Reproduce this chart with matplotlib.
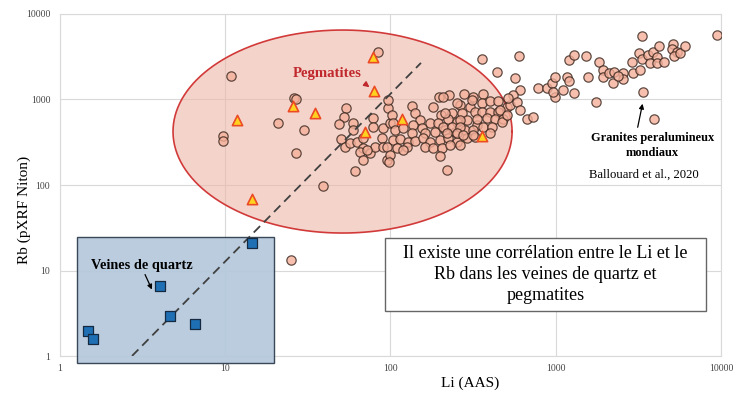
import numpy as np
import matplotlib.pyplot as plt
from matplotlib.patches import Rectangle

plt.rcParams['font.family'] = ['Liberation Serif', 'DejaVu Serif']

# Granites peralumineux mondiaux (Ballouard et al., 2020) - Li (AAS) vs Rb
li_granites = [10.8, 9.7, 9.7, 26, 27, 21, 30, 27, 39, 25, 84,
               54, 52, 49, 59, 59, 50, 53, 57, 63, 68, 78, 78, 90, 89, 99, 97,
               68, 75, 65, 68, 61, 81, 90, 72, 95, 97,
               102, 104, 135, 141, 197, 226, 279, 316, 264, 303, 181, 202, 236,
               271, 325, 151, 174, 194, 223, 253, 291, 334,
               107, 119, 137, 155, 135, 162, 186, 214, 246, 283, 316,
               104, 114, 128, 141, 157, 174, 200, 223, 253, 291, 325,
               95, 110, 126, 162, 181, 205, 230, 264, 99, 119, 200, 98, 220,
               364, 208, 253, 358, 401, 448, 508, 214, 358, 401, 448, 264, 334,
               384, 430, 481, 208, 236, 264, 364, 412, 474, 220, 253, 401, 275, 316,
               312, 461, 530, 508,
               358, 600, 442, 568, 608, 552, 515, 584, 608, 671, 730, 782, 887,
               951, 992, 992, 964, 1108, 1172, 1205, 1292, 1527, 1832, 1205, 1292,
               1570, 1757, 1937, 1937, 2104, 2258, 2225, 2560, 2560, 2900, 2942,
               3243, 3335, 3200, 3335, 3624, 3726, 3890, 4110, 4227, 4110, 4530,
               5140, 5070, 5430, 5210, 5660, 6070, 9480, 3381, 3945, 2390]
rb_granites = [1880, 374, 327, 1040, 1010, 531, 440, 237, 97, 13.3, 3590,
               796, 624, 517, 531, 440, 345, 278, 310, 318, 355, 608, 477, 464, 355, 531, 796,
               271, 237, 243, 196, 146, 278, 278, 257, 196, 986,
               659, 531, 840, 695, 1070, 1130, 1160, 1070, 863, 817, 817, 659, 695,
               695, 714, 576, 531, 531, 591, 546, 576, 503,
               440, 464, 503, 464, 406, 406, 417, 440, 417, 440, 440,
               336, 345, 318, 327, 355, 318, 336, 355, 318, 355, 364,
               278, 271, 278, 278, 271, 271, 294, 294, 224, 257, 218, 186, 150,
               1160, 1070, 910, 910, 960, 960, 817, 695, 714, 714, 714, 576, 591,
               608, 591, 591, 477, 477, 477, 477, 477, 546, 406, 406, 406, 384, 384,
               986, 754, 863, 659,
               2980, 3230, 2100, 1780, 1290, 1130, 1040, 935, 754, 591, 624, 1360, 1360,
               1560, 1830, 1070, 1220, 1290, 1830, 2900, 3310, 3230, 2745, 1650, 1190,
               1830, 935, 2210, 1830, 2040, 2100, 1560, 2040, 1740, 2745, 2040,
               2210, 5530, 3500, 2980, 3310, 2670, 3590, 3140, 4225, 2670, 2745,
               4460, 3900, 3590, 3230, 3500, 4225, 5680, 1220, 591, 1880]

# Pegmatites
li_pegmatites = [11.8, 14.5, 25.6, 35, 78.5, 80, 70, 117, 358]
rb_pegmatites = [576, 68.6, 839, 695, 3140, 1260, 417, 591, 374]

# Veines de quartz
li_quartz = [1.48, 1.58, 4.03, 4.63, 6.56, 14.5]
rb_quartz = [1.96, 1.58, 6.6, 2.94, 2.37, 21]

# dashed trend (power law Rb = a * Li^b)
trend_a, trend_b = 0.14, 1.96
trend_li = [2.73, 153]

ticks = [1, 10, 100, 1000, 10000]
tick_labels = ['1', '10', '100', '1000', '10000']

fig = plt.figure(figsize=(7.44, 3.93), dpi=100)
ax = fig.add_axes([0.0806, 0.0941, 0.8884, 0.8703])
ax.set_xscale('log')
ax.set_yscale('log')
ax.set_xlim(1, 10000)
ax.set_ylim(1, 10000)

# pegmatite ellipse, drawn in log space
t = np.linspace(0, 2 * np.pi, 300)
ex = 10 ** (np.log10(51.3) + 1.026 * np.cos(t))
ey = 10 ** (np.log10(422) + 1.187 * np.sin(t))
ax.fill(ex, ey, facecolor='#eeb8a8', alpha=0.6, edgecolor='none', zorder=1)
ax.plot(ex, ey, color='#d23a3a', lw=1.2, zorder=1.5)

# quartz box
ax.add_patch(Rectangle((1.27, 0.83), 19.7 - 1.27, 24.6 - 0.83,
                       facecolor='#b4c8dc', edgecolor='#2b3a4a', lw=1.0,
                       alpha=0.92, clip_on=False, zorder=3))

ax.scatter(li_granites, rb_granites, s=45, facecolor='#f4b09a', edgecolor='#3a261e',
           linewidths=0.9, alpha=0.8, zorder=4)

tl = np.array(trend_li)
ax.plot(tl, trend_a * tl ** trend_b, color='#404040', lw=1.3, ls=(0, (5, 3)), zorder=5)

ax.scatter(li_pegmatites, rb_pegmatites, s=55, marker='^', facecolor='#ffd21f',
           edgecolor='#ec4a25', linewidths=1.2, zorder=6)
ax.scatter(li_quartz, rb_quartz, s=45, marker='s', facecolor='#1f6fb5',
           edgecolor='#152a40', linewidths=0.9, zorder=6)

ax.grid(True, which='major', color='#d9d9d9', lw=0.8, zorder=0)
ax.set_axisbelow(True)
ax.minorticks_off()
for s in ax.spines.values():
    s.set_color('#d9d9d9')
ax.set_xticks(ticks)
ax.set_xticklabels(tick_labels)
ax.set_yticks(ticks)
ax.set_yticklabels(tick_labels)
ax.tick_params(length=0, labelsize=7, colors='#444444')
ax.tick_params(axis='y', pad=7)
ax.tick_params(axis='x', pad=6)

ax.set_xlabel('Li (AAS)', fontsize=11)
ax.set_ylabel('Rb (pXRF Niton)', fontsize=11)
ax.xaxis.set_label_coords(0.62, -0.06)
ax.yaxis.set_label_coords(-0.044, 0.427)

# annotations
ax.text(41.6, 2040, 'Pegmatites', color='#c0282d', fontsize=10.6, fontweight='bold',
        ha='center', va='center', zorder=7)
ax.annotate('', xy=(77, 1330), xytext=(68, 1600),
            arrowprops=dict(arrowstyle='-|>', color='#c0282d', lw=1, mutation_scale=8), zorder=7)

ax.text(3.11, 11.6, 'Veines de quartz', color='black', fontsize=10.3, fontweight='bold',
        ha='center', va='center', zorder=7)
ax.annotate('', xy=(3.66, 5.6), xytext=(3.22, 9.6),
            arrowprops=dict(arrowstyle='-|>', color='black', lw=0.9, mutation_scale=7), zorder=7)

ax.text(3860, 290, 'Granites peralumineux\nmondiaux', fontsize=8.9, fontweight='bold',
        ha='center', va='center', linespacing=1.25, zorder=7)
ax.text(3405, 131, 'Ballouard et al., 2020', fontsize=9.2, ha='center', va='center', zorder=7)
ax.annotate('', xy=(3381, 960), xytext=(3110, 440),
            arrowprops=dict(arrowstyle='-|>', color='black', lw=0.9, mutation_scale=7), zorder=7)

ax.add_patch(Rectangle((0.492, 0.132), 0.485, 0.213, transform=ax.transAxes,
                       facecolor='white', edgecolor='#666666', lw=1.0, zorder=7))
ax.text(0.7345, 0.2385, 'Il existe une corrélation entre le Li et le\nRb dans les veines de quartz et\npegmatites',
        transform=ax.transAxes, fontsize=13, ha='center', va='center', linespacing=1.3, zorder=8)

fig.savefig('out.png', dpi=100)
